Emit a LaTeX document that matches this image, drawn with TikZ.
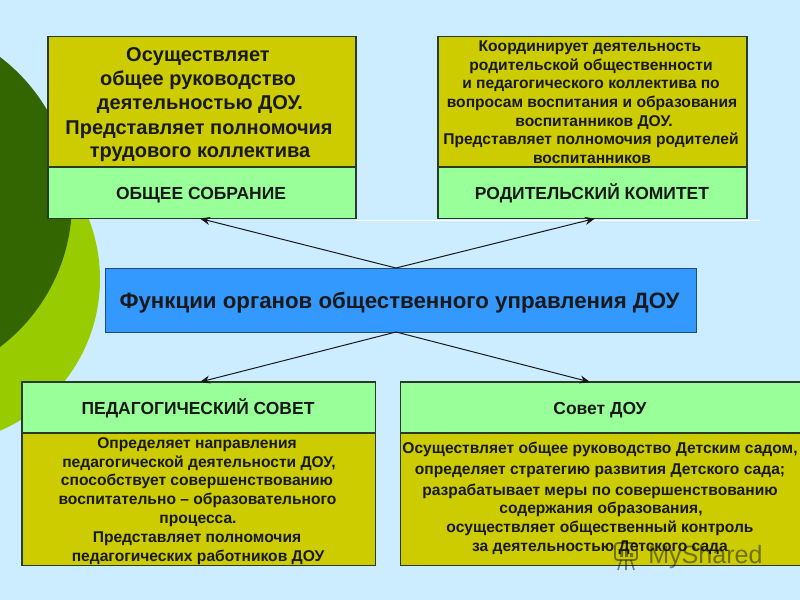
\documentclass[tikz,border=0pt]{standalone}
\usepackage{fontspec}
\setmainfont{Liberation Sans}
\usetikzlibrary{arrows.meta}
\definecolor{bgc}{HTML}{CCECFF}
\definecolor{olivec}{HTML}{CCCC00}
\definecolor{greenc}{HTML}{99FF99}
\definecolor{bluec}{HTML}{3399FF}
\definecolor{darkc}{HTML}{336600}
\definecolor{limec}{HTML}{99CC00}
\definecolor{edgec}{HTML}{2A3A2A}
\definecolor{hubedge}{HTML}{1F4E79}
\tikzset{
  x=0.75pt,y=-0.75pt,
  panel/.style={draw=edgec,line width=0.85pt},
  line/.style={inner sep=0pt,anchor=base,font=\bfseries,text=black!90},
  big/.style={line,font=\fontsize{15pt}{17pt}\bfseries},
  small/.style={line,font=\fontsize{11.7pt}{13pt}\bfseries},
  mid/.style={line,font=\fontsize{11.7pt}{13pt}\bfseries},
  head/.style={line,font=\fontsize{13.1pt}{15pt}\bfseries},
  conn/.style={draw=black!90,line width=0.75pt,-{Stealth[length=7.5pt,width=6pt]}}
}
\begin{document}
\begin{tikzpicture}
\useasboundingbox (0,0) rectangle (800,600);
\fill[bgc] (0,0) rectangle (800,600);
\begin{scope}
\clip (0,0) rectangle (800,600);
\fill[limec] (-65,279) circle[radius=165];
\fill[darkc] (-110,202) circle[radius=182];
\draw[white,line width=0.6pt] (356,220) -- (760,220);

\path[panel,fill=olivec] (48,36.5) rectangle (356,167);
\path[panel,fill=greenc] (48,167) rectangle (356,218.5);
\path[panel,fill=olivec] (438,36.5) rectangle (747,167);
\path[panel,fill=greenc] (438,167) rectangle (747,218.5);
\path[panel,fill=greenc] (22,382) rectangle (375.5,433);
\path[panel,fill=olivec] (22,433) rectangle (375.5,565.5);
\path[panel,fill=greenc] (400.5,382) rectangle (830,433);
\path[panel,fill=olivec] (400.5,433) rectangle (830,565.5);
\end{scope}
\node[draw=hubedge,line width=0.85pt,fill=bluec,minimum width=443.25pt,minimum height=48pt,inner sep=0pt,anchor=north west] (hub) at (105,268) {};

\coordinate (hubtop) at (396,268);
\coordinate (hubbot) at (396,332);
\coordinate (sobr) at (200,218.5);
\coordinate (komitet) at (595,218.5);
\coordinate (pedsov) at (200,382);
\coordinate (sovet) at (590,382);
\draw[conn] (hubtop) -- (sobr);
\draw[conn] (hubtop) -- (komitet);
\draw[conn] (hubbot) -- (pedsov);
\draw[conn] (hubbot) -- (sovet);

\node[line,font=\fontsize{16.7pt}{19pt}\bfseries] (h1) at (399.5,308.5) {Функции органов общественного управления ДОУ};

\node[big] (a1) at (198,61) {Осуществляет};
\node[big] (a2) at (198,85) {общее руководство};
\node[big] (a3) at (200,109) {деятельностью ДОУ.};
\node[big] (a4) at (199,134) {Представляет полномочия};
\node[big] (a5) at (200,157) {трудового коллектива};
\node[head] (a6) at (201,199.5) {ОБЩЕЕ СОБРАНИЕ};

\node[small] (b1) at (590,51) {Координирует деятельность};
\node[small] (b2) at (591,70) {родительской общественности};
\node[small] (b3) at (591,88) {и педагогического коллектива по};
\node[small] (b4) at (592,107) {вопросам воспитания и образования};
\node[small] (b5) at (594,126) {воспитанников ДОУ.};
\node[small] (b6) at (591,144) {Представляет полномочия родителей};
\node[small] (b7) at (592,163) {воспитанников};
\node[head] (b8) at (592,199.5) {РОДИТЕЛЬСКИЙ КОМИТЕТ};

\node[head] (c0) at (198,414) {ПЕДАГОГИЧЕСКИЙ СОВЕТ};
\node[small] (c1) at (197,448) {Определяет направления};
\node[small] (c2) at (199,467) {педагогической деятельности ДОУ,};
\node[small] (c3) at (197,485) {способствует совершенствованию};
\node[small] (c4) at (197.5,504) {воспитательно – образовательного};
\node[small] (c5) at (198,523) {процесса.};
\node[small] (c6) at (197,542) {Представляет полномочия};
\node[small] (c7) at (198,561) {педагогических работников ДОУ};

\node[head] (d0) at (600,414) {Совет ДОУ};
\node[mid] (d1) at (600,453) {Осуществляет общее руководство Детским садом,};
\node[mid] (d2) at (600,474) {определяет стратегию развития Детского сада;};
\node[mid] (d3) at (600,495) {разрабатывает меры по совершенствованию};
\node[mid] (d4) at (601,513) {содержания образования,};
\node[mid] (d5) at (600,532) {осуществляет общественный контроль};
\node[mid] (d6) at (600,551) {за деятельностью Детского сада};

\begin{scope}[opacity=0.45]
\draw[black,line width=1.4pt,rounded corners=2pt] (615,543) rectangle (637,560);
\fill[black] (620,551) rectangle (623,557) (625,548) rectangle (628,557) (630,553) rectangle (633,557);
\draw[black,line width=1.2pt] (621,560) -- (618,570) (626,560) -- (626,570) (631,560) -- (634,570);
\node[inner sep=0pt,anchor=base west,font=\fontsize{18.8pt}{21pt}\selectfont,text=black] (w) at (648,563) {MyShared};
\end{scope}
\end{tikzpicture}
\end{document}
